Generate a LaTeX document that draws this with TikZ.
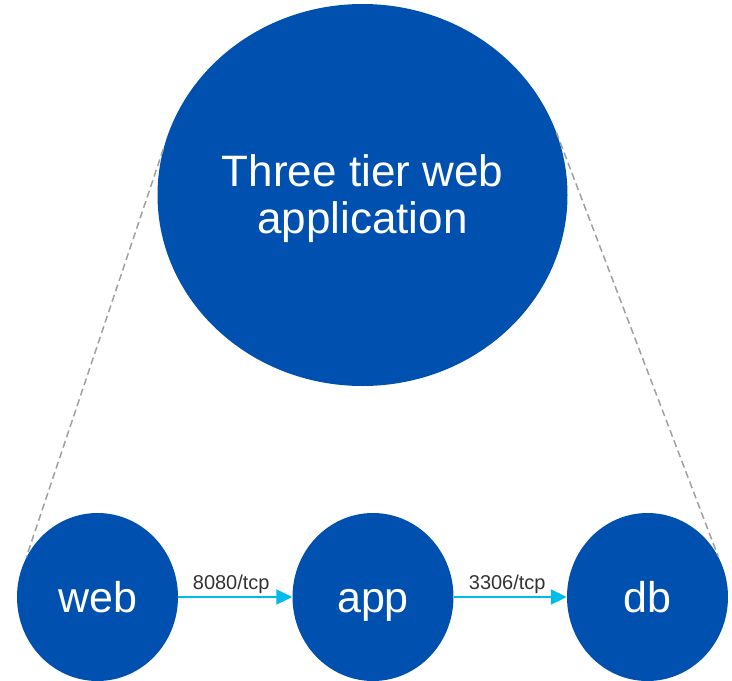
\documentclass[tikz,border=0pt]{standalone}
\usepackage{fontspec}
\setmainfont{Liberation Sans}
\usetikzlibrary{shapes.geometric,arrows.meta}
\definecolor{ciscoblue}{HTML}{0051AF}
\definecolor{ciscocyan}{HTML}{00BCEB}
\definecolor{dashgray}{HTML}{A0A0A0}
\definecolor{labelgray}{HTML}{333333}
\tikzset{
  bigbubble/.style={ellipse, fill=ciscoblue, draw=none, inner sep=0pt,
    minimum width=410pt, minimum height=382pt},
  bigtitle/.style={text=white, align=center, inner sep=0pt,
    font=\fontsize{44}{47}\selectfont},
  tierbubble/.style={ellipse, fill=ciscoblue, draw=none, inner sep=0pt,
    minimum width=161pt, minimum height=168pt, text=white,
    font=\fontsize{43}{43}\selectfont, text height=31pt, text depth=0pt},
  flow/.style={draw=ciscocyan, line width=2pt, -{Triangle[length=16pt,width=15pt]}},
  portlabel/.style={text=labelgray, font=\fontsize{20}{20}\selectfont, inner sep=1pt, anchor=south},
  zoomline/.style={draw=dashgray, line width=1.5pt, dash pattern=on 7pt off 4pt}
}
\begin{document}
\begin{tikzpicture}[x=1pt,y=-1pt]
  \useasboundingbox (0,0) rectangle (732,681);
  \node[bigbubble] (big) at (362.5,195) {};
  \node[bigtitle] (bigtext) at (362.5,199) {Three tier web\\application};
  \node[tierbubble] (web) at (97.5,597) {web};
  \node[tierbubble] (app) at (373,597) {app};
  \node[tierbubble] (db) at (647.5,597) {db};
  \draw[zoomline] (big.167) -- (web.151);
  \draw[zoomline] (big.18) -- (db.30);
  \draw[flow] (web.east) -- node[portlabel, xshift=-4pt, yshift=1pt] {8080/tcp} (app.west);
  \draw[flow] (app.east) -- node[portlabel, xshift=-3pt, yshift=1pt] {3306/tcp} (db.west);
\end{tikzpicture}
\end{document}
